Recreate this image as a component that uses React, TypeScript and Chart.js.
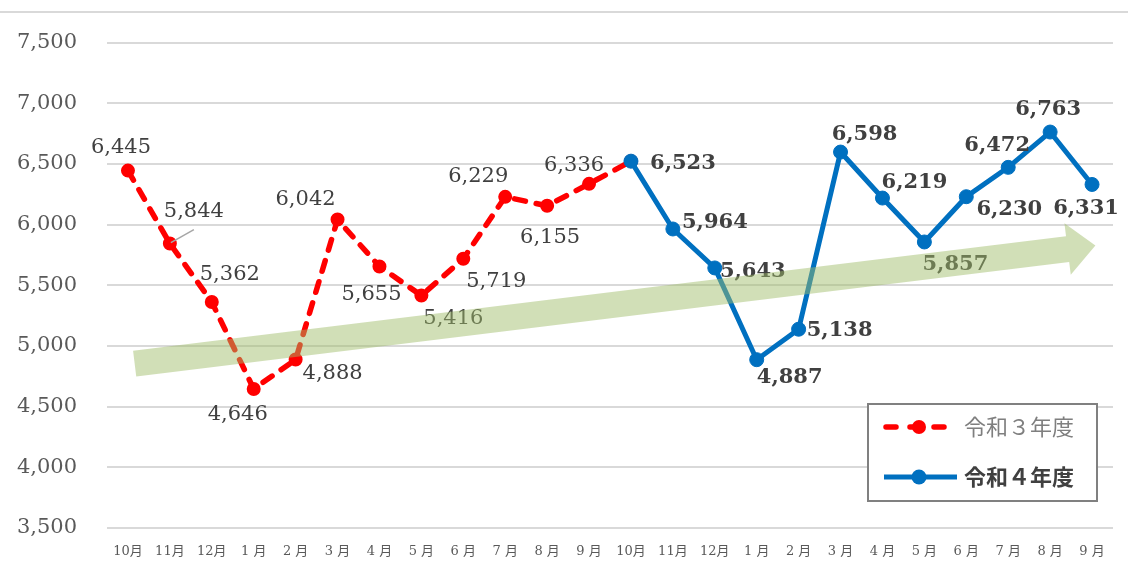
import React, { useEffect, useRef } from "react";
import { Chart, registerables } from "chart.js";

Chart.register(...registerables);

// ---------- data ----------
const MONTHS = ["10月", "11月", "12月", "1 月", "2 月", "3 月", "4 月", "5 月", "6 月", "7 月", "8 月", "9 月"];
const CATEGORIES = [...MONTHS, ...MONTHS];
const R3_NAME = "令和３年度";
const R4_NAME = "令和４年度";
const R3_VALUES = [6445, 5844, 5362, 4646, 4888, 6042, 5655, 5416, 5719, 6229, 6155, 6336];
const R4_VALUES = [6523, 5964, 5643, 4887, 5138, 6598, 6219, 5857, 6230, 6472, 6763, 6331];
const Y_MIN = 3500;
const Y_MAX = 7500;
const Y_STEP = 500;
// trend arrow, in data coordinates (category index, value)
const TREND_FROM = [0.16, 4855];
const TREND_TO = [23.08, 5827];

// ---------- label placement (pixels, relative to the point) ----------
const R3_LABEL_OFFSETS = [[-7, -23], [24, -32], [18, -27], [-16, 26], [37, 14], [-32, -20], [-8, 28], [32, 23], [33, 23], [-27, -20], [3, 32], [-15, -18]];
const R4_LABEL_OFFSETS = [[52, 2], [42, -6], [38, 4], [33, 18], [41, 1], [24, -18], [32, -16], [31, 23], [43, 13], [-11, -22], [-2, -22], [-6, 24]];

const RED = "#FF0000";
const BLUE = "#0070C0";
const SERIF = '"DejaVu Serif", "Noto Sans CJK JP", serif';
const CJK = '"Noto Sans CJK JP", sans-serif';

const fmt = (v: number) => v.toLocaleString("en-US");

const redData = [...R3_VALUES, R4_VALUES[0], ...Array(R4_VALUES.length - 1).fill(null)];
const blueData = [...Array(R3_VALUES.length).fill(null), ...R4_VALUES];

const decorPlugin = {
  id: "decor",
  beforeDraw(chart: any) {
    const ctx = chart.ctx;
    ctx.save();
    ctx.strokeStyle = "#d9d9d9";
    ctx.lineWidth = 2;
    ctx.beginPath();
    ctx.moveTo(0, 12);
    ctx.lineTo(chart.width, 12);
    ctx.stroke();
    ctx.restore();
  },
  afterDatasetsDraw(chart: any) {
    const ctx = chart.ctx;
    const area = chart.chartArea;
    // ---- data labels ----
    const drawLabels = (dsIndex: number, values: number[], offsets: number[][], startIdx: number, bold: boolean) => {
      const meta = chart.getDatasetMeta(dsIndex);
      ctx.save();
      ctx.font = `${bold ? "bold " : ""}21px ${SERIF}`;
      ctx.fillStyle = "#404040";
      ctx.textAlign = "center";
      ctx.textBaseline = "middle";
      values.forEach((v, i) => {
        const el = meta.data[startIdx + i];
        if (!el) return;
        const [dx, dy] = offsets[i];
        ctx.fillText(fmt(v), el.x + dx, el.y + dy);
      });
      ctx.restore();
    };
    drawLabels(0, R3_VALUES, R3_LABEL_OFFSETS, 0, false);
    drawLabels(1, R4_VALUES, R4_LABEL_OFFSETS, R3_VALUES.length, true);

    // leader line for the 2nd red label
    {
      const el = chart.getDatasetMeta(0).data[1];
      ctx.save();
      ctx.strokeStyle = "#a6a6a6";
      ctx.lineWidth = 1.5;
      ctx.beginPath();
      ctx.moveTo(el.x + 1, el.y - 1);
      ctx.lineTo(el.x + 24, el.y - 14);
      ctx.stroke();
      ctx.restore();
    }

    // ---- trend arrow ----
    {
      const xs = chart.scales.x;
      const ys = chart.scales.y;
      const x0 = xs.getPixelForValue(TREND_FROM[0]);
      const y0 = ys.getPixelForValue(TREND_FROM[1]);
      const x1 = xs.getPixelForValue(TREND_TO[0]);
      const y1 = ys.getPixelForValue(TREND_TO[1]);
      const len = Math.hypot(x1 - x0, y1 - y0);
      const ux = (x1 - x0) / len;
      const uy = (y1 - y0) / len;
      const nx = -uy;
      const ny = ux;
      const h = 13;
      const H = 26;
      const L = 28;
      const bx = x1 - ux * L;
      const by = y1 - uy * L;
      ctx.save();
      ctx.fillStyle = "rgba(158,188,105,0.48)";
      ctx.beginPath();
      ctx.moveTo(x0 + nx * h, y0 + ny * h);
      ctx.lineTo(bx + nx * h, by + ny * h);
      ctx.lineTo(bx + nx * H, by + ny * H);
      ctx.lineTo(x1, y1);
      ctx.lineTo(bx - nx * H, by - ny * H);
      ctx.lineTo(bx - nx * h, by - ny * h);
      ctx.lineTo(x0 - nx * h, y0 - ny * h);
      ctx.closePath();
      ctx.fill();
      ctx.restore();
    }

    // ---- legend ----
    {
      const w = 229;
      const hgt = 97;
      const left = area.right - 16 - w;
      const top = area.bottom - 27 - hgt;
      ctx.save();
      ctx.fillStyle = "#ffffff";
      ctx.fillRect(left, top, w, hgt);
      ctx.strokeStyle = "#808080";
      ctx.lineWidth = 2;
      ctx.strokeRect(left, top, w, hgt);

      const rowY = [top + 23, top + 73];
      // red row
      ctx.strokeStyle = RED;
      ctx.lineWidth = 5.5;
      ctx.lineCap = "round";
      ctx.setLineDash([10, 14]);
      ctx.beginPath();
      ctx.moveTo(left + 18, rowY[0]);
      ctx.lineTo(left + 80, rowY[0]);
      ctx.stroke();
      ctx.setLineDash([]);
      ctx.fillStyle = RED;
      ctx.beginPath();
      ctx.arc(left + 51, rowY[0], 7, 0, Math.PI * 2);
      ctx.fill();
      // blue row
      ctx.strokeStyle = BLUE;
      ctx.lineWidth = 5;
      ctx.lineCap = "butt";
      ctx.beginPath();
      ctx.moveTo(left + 16, rowY[1]);
      ctx.lineTo(left + 89, rowY[1]);
      ctx.stroke();
      ctx.fillStyle = BLUE;
      ctx.beginPath();
      ctx.arc(left + 51, rowY[1], 7.5, 0, Math.PI * 2);
      ctx.fill();

      ctx.textAlign = "left";
      ctx.textBaseline = "middle";
      ctx.font = `22px ${CJK}`;
      ctx.fillStyle = "#7f7f7f";
      ctx.fillText(R3_NAME, left + 96, rowY[0]);
      ctx.font = `bold 22px ${CJK}`;
      ctx.fillStyle = "#404040";
      ctx.fillText(R4_NAME, left + 96, rowY[1]);
      ctx.restore();
    }
  },
};

export default function App() {
  const ref = useRef<HTMLCanvasElement | null>(null);

  useEffect(() => {
    if (!ref.current) return;
    const chart = new Chart(ref.current, {
      type: "line",
      data: {
        labels: CATEGORIES,
        datasets: [
          {
            label: R3_NAME,
            data: redData,
            borderColor: RED,
            backgroundColor: RED,
            borderWidth: 5.5,
            borderDash: [11, 11],
            borderCapStyle: "round",
            pointRadius: 6,
            pointBorderWidth: 2,
            pointBorderColor: RED,
            pointBackgroundColor: RED,
            spanGaps: false,
            order: 2,
          },
          {
            label: R4_NAME,
            data: blueData,
            borderColor: BLUE,
            backgroundColor: BLUE,
            borderWidth: 5,
            pointRadius: 7,
            pointBorderWidth: 1,
            pointBorderColor: BLUE,
            pointBackgroundColor: BLUE,
            order: 1,
          },
        ] as any,
      },
      options: {
        responsive: false,
        animation: false,
        layout: { padding: { top: 42, right: 15, left: 0, bottom: 0 } },
        plugins: {
          legend: { display: false },
          tooltip: { enabled: false },
          title: { display: false },
        },
        scales: {
          x: {
            offset: true,
            grid: { display: false, drawTicks: false },
            border: { display: false },
            ticks: {
              color: "#595959",
              font: { family: SERIF, size: 13 },
              padding: 16,
              maxRotation: 0,
              autoSkip: false,
            },
            afterFit: (s: any) => {
              s.height = 49;
            },
          },
          y: {
            min: Y_MIN,
            max: Y_MAX,
            grid: { color: "#d9d9d9", lineWidth: 2, drawTicks: false },
            border: { display: false },
            ticks: {
              stepSize: Y_STEP,
              color: "#595959",
              font: { family: SERIF, size: 21 },
              padding: 30,
              callback: (v: any) => fmt(Number(v)),
            },
            afterFit: (s: any) => {
              s.width = 107;
            },
          },
        },
      } as any,
      plugins: [decorPlugin],
    });
    return () => chart.destroy();
  }, []);

  return (
    <div style={{ position: "fixed", left: 0, top: 0, width: 1128, height: 577, background: "#fff" }}>
      <canvas ref={ref} width={1128} height={577} style={{ display: "block" }} />
    </div>
  );
}
